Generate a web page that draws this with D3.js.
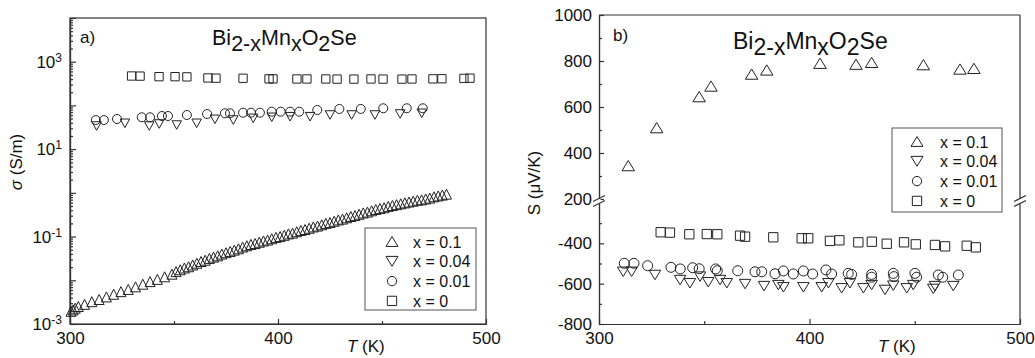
<!DOCTYPE html>
<html>
<head>
<meta charset="utf-8">
<script src="https://cdn.jsdelivr.net/npm/d3@7"></script>
<style>
  body { margin: 0; background: #fff; }
  svg { display: block; font-family: "Liberation Sans", Arial, sans-serif; }
  .axis path, .axis line { stroke: #333; stroke-width: 1.2; }
  .axis text { font-size: 17px; fill: #111; font-family: "Liberation Sans", Arial, sans-serif; }
</style>
</head>
<body>
<svg id="chart" width="1035" height="358"></svg>
<script>
// ---- panel a) conductivity, sigma (S/m) vs T (K) ----
const condT_x01 = [300.5, 301.5, 302.5, 304, 307, 310.5, 314, 317.5, 321, 324.5, 328, 331.5, 335, 338.5, 342, 345.5, 349,
  351, 353, 355, 357, 359, 361, 363, 365, 367, 369, 371, 373, 375, 377, 379, 381, 383, 385, 387, 389,
  391, 393, 395, 397, 399, 401, 403, 405, 407, 409, 411, 413, 415, 417, 419, 421, 423, 425, 427, 429,
  431, 433, 435, 437, 439, 441, 443, 445, 447, 449, 451, 453, 455, 457, 459, 461, 463, 465, 467, 469,
  471, 473, 475, 477, 479, 481];
const cond_x01 = [0.00195, 0.0021, 0.0023, 0.00251, 0.00282, 0.00324, 0.00363, 0.00417, 0.00479, 0.0055, 0.00617, 0.00708, 0.00813, 0.00933, 0.0105, 0.012, 0.0138,
  0.0158, 0.0174, 0.0191, 0.0204, 0.0224, 0.0245, 0.0269, 0.0288, 0.0316, 0.0339, 0.0363, 0.0398, 0.0427, 0.0457, 0.049, 0.0525, 0.0575, 0.0617, 0.0661, 0.0692,
  0.0741, 0.0794, 0.0832, 0.0891, 0.0955, 0.1, 0.107, 0.115, 0.12, 0.129, 0.138, 0.145, 0.155, 0.166, 0.174, 0.186, 0.2, 0.209, 0.224, 0.24,
  0.251, 0.269, 0.288, 0.302, 0.324, 0.347, 0.363, 0.389, 0.417, 0.437, 0.457, 0.49, 0.513, 0.537, 0.562, 0.589, 0.617, 0.646, 0.676, 0.692,
  0.724, 0.759, 0.813, 0.851, 0.891, 0.933];

const condT_x004 = [312.8, 326.4, 338.1, 342.9, 351.3, 360.9, 369.7, 378.5, 388.1, 397, 405.8, 415.4, 425, 435.4, 446.6, 458.7, 469.1];
const cond_x004 = [33.8, 39, 33.8, 37.6, 35.6, 39, 48.1, 46.3, 50.7, 53.5, 55.2, 55.2, 60.4, 60.4, 60.4, 63.7, 66.1];

const condT_x001 = [312.4, 316.3, 322.6, 334.5, 338.5, 344.2, 347.1, 356.2, 365.9, 374.5, 376.9, 383.2, 387, 391.3, 397, 401.3, 405.8, 410.2, 418.9, 429.5, 439.8, 450.6, 461.9, 469.6];
const cond_x001 = [46.3, 46.3, 48.9, 53.5, 53.5, 57.3, 57.3, 60.4, 63.7, 66.1, 66.1, 68.2, 68.2, 68.2, 71.9, 71.9, 71.9, 71.9, 78.7, 83, 83, 86.1, 86.1, 86.1];

const condT_x0 = [329.6, 333.7, 342.8, 350.5, 356.2, 366.3, 370.2, 383.2, 395.7, 397.6, 409.1, 413.9, 423, 428.4, 436.5, 444.7, 450.5, 459.6, 464.4, 474.5, 478.8, 489.4, 492.3];
const cond_x0 = [471, 468, 455, 455, 450, 425, 420, 418, 405, 405, 403, 403, 403, 400, 400, 403, 400, 400, 403, 405, 408, 415, 420];

// ---- panel b) Seebeck coefficient, S (uV/K) vs T (K) ----
const seebT_x01 = [313.9, 327.4, 347.6, 353.2, 372.5, 379.7, 405, 422.1, 429.5, 454.1, 471.5, 478.1];
const seeb_x01 = [345, 510, 645, 691, 743, 761, 790, 786, 794, 784, 765, 768];

const seebT_x004 = [311.5, 315.5, 326.6, 338.5, 343.2, 348, 351.9, 357.5, 360.7, 369.4, 378.4, 385.2, 387.6, 397.1, 405.8, 409, 415.3, 419.2, 425.6, 429.5, 435.9, 439.8, 446.2, 449.3, 458.8, 459.6, 468.3];
const seeb_x004 = [-541, -541, -557, -582, -598, -565, -593, -582, -598, -602, -612, -607, -618, -618, -618, -598, -623, -598, -623, -607, -631, -610, -623, -607, -626, -612, -612];

const seebT_x001 = [312, 316.6, 323.1, 334.2, 338.6, 344.5, 347.6, 355.4, 356.2, 365.9, 374.1, 377.3, 383.6, 387.6, 392.3, 397.1, 401.5, 407.8, 410.5, 418.4, 420, 429.5, 429.5, 439.8, 440.1, 450.1, 450.9, 461.2, 463.3, 470.7];
const seeb_x001 = [-499, -499, -511, -519, -527, -521, -526, -527, -536, -536, -541, -541, -551, -537, -552, -537, -552, -532, -552, -549, -554, -554, -568, -549, -565, -549, -568, -557, -568, -557];

const seebT_x0 = [329.3, 333.7, 342.9, 351.2, 356.2, 367, 369.4, 382.8, 396.3, 399.4, 409.7, 414.2, 423.2, 429.6, 436.7, 444.9, 450.5, 459.6, 464.4, 474.7, 479];
const seeb_x0 = [-345, -347, -355, -354, -355, -362, -367, -370, -375, -375, -388, -385, -395, -392, -402, -395, -405, -408, -415, -412, -420];

const legendLabels = ["x = 0.1", "x = 0.04", "x = 0.01", "x = 0"];
const legendShapes = ["up", "down", "circle", "square"];
const tempTicks = [300, 400, 500];
const tempMinor = [350, 450];
const logMajor = [1e-3, 1e-2, 1e-1, 1e0, 1e1, 1e2, 1e3, 1e4];
const seebUpperTicks = [200, 400, 600, 800, 1000];
const seebUpperMinor = [300, 500, 700, 900];
const seebLowerTicks = [-800, -600, -400];
const seebLowerMinor = [-700, -500, -300];

const svg = d3.select("#chart");
const ink = "#222";
const plain = d => String(d);

// w = width, k = half-height as a fraction of the width
function shapePath(kind, s, k = 0.41) {
  const h = s / 2, t = s * k;
  if (kind === "up") return `M0,${-t}L${h},${t}L${-h},${t}Z`;
  if (kind === "down") return `M0,${t}L${h},${-t}L${-h},${-t}Z`;
  if (kind === "square") return `M${-h},${-h}h${s}v${s}h${-s}Z`;
  return `M${h},0A${h},${h} 0 1,1 ${-h},0A${h},${h} 0 1,1 ${h},0Z`;
}

function drawSeries(g, xs, ys, T, v, kind, size, k) {
  g.append("g").selectAll("path")
    .data(d3.zip(T, v))
    .join("path")
    .attr("transform", d => `translate(${xs(d[0])},${ys(d[1])})`)
    .attr("d", shapePath(kind, size, k))
    .attr("fill", "none")
    .attr("stroke", ink)
    .attr("stroke-width", 1);
}

function drawLegend(x0, y0, w, h, rows, symX, textX) {
  svg.append("rect")
    .attr("x", x0).attr("y", y0).attr("width", w).attr("height", h)
    .attr("fill", "#fff").attr("stroke", "#555").attr("stroke-width", 1);
  rows.forEach((label, i) => {
    const cy = y0 + 13.5 + i * 19.8;
    const tri = legendShapes[i] === "up" || legendShapes[i] === "down";
    svg.append("path")
      .attr("transform", `translate(${symX},${cy})`)
      .attr("d", shapePath(legendShapes[i], tri ? 12 : 9.3))
      .attr("fill", "none").attr("stroke", ink).attr("stroke-width", 1);
    svg.append("text")
      .attr("x", textX).attr("y", cy + 6)
      .attr("font-size", 16).attr("fill", "#111")
      .text(label);
  });
}

function title(x, y, size) {
  const t = svg.append("text").attr("x", x).attr("y", y).attr("font-size", size).attr("fill", "#111");
  const parts = [["Bi", 0], ["2-x", 1], ["Mn", 0], ["x", 1], ["O", 0], ["2", 1], ["Se", 0]];
  let low = false;
  parts.forEach(([s, sub]) => {
    const ts = t.append("tspan").text(s);
    if (sub && !low) { ts.attr("dy", 6); low = true; }
    else if (!sub && low) { ts.attr("dy", -6); low = false; }
  });
}

function axisTitleT(x, y) {
  const t = svg.append("text").attr("x", x).attr("y", y).attr("font-size", 17).attr("fill", "#111");
  t.append("tspan").attr("font-style", "italic").text("T");
  t.append("tspan").text(" (K)");
}

// ================= panel a =================
const aL = 70, aR = 486, aT = 18, aB = 324;
const xA = d3.scaleLinear().domain([300, 500]).range([aL, aR]);
const yA = d3.scaleLog().domain([1e-3, 1e4]).range([aB, aT]);

svg.append("rect").attr("x", aL).attr("y", aT).attr("width", aR - aL).attr("height", aB - aT)
  .attr("fill", "none").attr("stroke", "#333").attr("stroke-width", 1.2);

svg.append("g").attr("class", "axis").attr("transform", `translate(0,${aB})`)
  .call(d3.axisBottom(xA).tickValues(tempTicks).tickSize(-5).tickSizeOuter(0).tickPadding(8).tickFormat(plain));
svg.append("g").attr("class", "axis").attr("transform", `translate(0,${aB})`)
  .call(d3.axisBottom(xA).tickValues(tempMinor).tickSize(-3).tickSizeOuter(0).tickFormat(""));

const yAxA = svg.append("g").attr("class", "axis").attr("transform", `translate(${aL},0)`)
  .call(d3.axisLeft(yA).tickValues(logMajor).tickSize(-6).tickSizeOuter(0).tickPadding(8).tickFormat(d => d));
yAxA.selectAll(".tick text").each(function (d) {
  const e = Math.round(Math.log10(d));
  const t = d3.select(this).text(null);
  if (Math.abs(e) % 2 !== 1) return;
  t.append("tspan").text("10");
  t.append("tspan").attr("dy", "-0.5em").attr("font-size", "12px").text(e);
});
svg.append("g").attr("class", "axis").attr("transform", `translate(${aL},0)`)
  .call(d3.axisLeft(yA).tickValues(yA.ticks().filter(v => Math.abs(Math.log10(v) - Math.round(Math.log10(v))) > 1e-6))
    .tickSize(-3).tickSizeOuter(0).tickFormat(""));

drawSeries(svg, xA, yA, condT_x0, cond_x0, "square", 8.3);
drawSeries(svg, xA, yA, condT_x001, cond_x001, "circle", 9);
drawSeries(svg, xA, yA, condT_x004, cond_x004, "down", 9.5, 0.45);
drawSeries(svg, xA, yA, condT_x01, cond_x01, "up", 10, 0.5);

svg.append("text").attr("x", 80).attr("y", 43).attr("font-size", 17).attr("fill", "#111").text("a)");
title(212, 45, 21.5);
drawLegend(365, 228, 111, 82, legendLabels, 392, 413);
axisTitleT(347, 352);

const yLabA = svg.append("text").attr("transform", "translate(22,162) rotate(-90)")
  .attr("text-anchor", "middle").attr("font-size", 17).attr("fill", "#111");
yLabA.append("tspan").attr("font-style", "italic").text("σ");
yLabA.append("tspan").text(" (S/m)");

// ================= panel b =================
const bL = 599, bR = 1020, bT = 15, bB = 324, brkHi = 199, brkLo = 203;
const xB = d3.scaleLinear().domain([300, 500]).range([bL, bR]);
const yBup = d3.scaleLinear().domain([200, 1000]).range([brkHi, bT]);
const yBlo = d3.scaleLinear().domain([-800, -200]).range([bB, brkLo]);
const yB = v => (v >= 0 ? yBup(v) : yBlo(v));

// frame: top, right with break
svg.append("line").attr("x1", bL).attr("x2", bR).attr("y1", bT).attr("y2", bT).attr("stroke", "#333").attr("stroke-width", 1.2);
svg.append("line").attr("x1", bR).attr("x2", bR).attr("y1", bT).attr("y2", 198).attr("stroke", "#333").attr("stroke-width", 1.2);
svg.append("line").attr("x1", bR).attr("x2", bR).attr("y1", 204).attr("y2", bB).attr("stroke", "#333").attr("stroke-width", 1.2);

svg.append("g").attr("class", "axis").attr("transform", `translate(0,${bB})`)
  .call(d3.axisBottom(xB).tickValues(tempTicks).tickSize(-5).tickSizeOuter(0).tickPadding(8).tickFormat(plain));
svg.append("g").attr("class", "axis").attr("transform", `translate(0,${bB})`)
  .call(d3.axisBottom(xB).tickValues(tempMinor).tickSize(-3).tickSizeOuter(0).tickFormat(""));

svg.append("g").attr("class", "axis").attr("transform", `translate(${bL},0)`)
  .call(d3.axisLeft(yBup).tickValues(seebUpperTicks).tickSize(-5).tickSizeOuter(0).tickPadding(7).tickFormat(plain));
svg.append("g").attr("class", "axis").attr("transform", `translate(${bL},0)`)
  .call(d3.axisLeft(yBup).tickValues(seebUpperMinor).tickSize(-3).tickSizeOuter(0).tickFormat(""));
svg.append("g").attr("class", "axis").attr("transform", `translate(${bL},0)`)
  .call(d3.axisLeft(yBlo).tickValues(seebLowerTicks).tickSize(-5).tickSizeOuter(0).tickPadding(7).tickFormat(plain));
svg.append("g").attr("class", "axis").attr("transform", `translate(${bL},0)`)
  .call(d3.axisLeft(yBlo).tickValues(seebLowerMinor).tickSize(-3).tickSizeOuter(0).tickFormat(""));

// axis break marks
[[bL, 201], [bR, 201]].forEach(([bx, by]) => {
  svg.append("rect").attr("x", bx - 1.5).attr("y", by - 2).attr("width", 3).attr("height", 4).attr("fill", "#fff");
  [-2.5, 2.5].forEach(off => {
    svg.append("line")
      .attr("x1", bx - 6).attr("y1", by + off + 3)
      .attr("x2", bx + 6).attr("y2", by + off - 3)
      .attr("stroke", "#333").attr("stroke-width", 1.2);
  });
});

drawSeries(svg, xB, yB, seebT_x0, seeb_x0, "square", 9.3);
drawSeries(svg, xB, yB, seebT_x001, seeb_x001, "circle", 10);
drawSeries(svg, xB, yB, seebT_x004, seeb_x004, "down", 11.5);
drawSeries(svg, xB, yB, seebT_x01, seeb_x01, "up", 12.5);

svg.append("text").attr("x", 613).attr("y", 41).attr("font-size", 17).attr("fill", "#111").text("b)");
title(733, 49, 23);
drawLegend(892, 128, 110, 84, legendLabels, 917, 940);
axisTitleT(878, 352);

const yLabB = svg.append("text").attr("transform", "translate(540,183) rotate(-90)")
  .attr("text-anchor", "middle").attr("font-size", 17).attr("fill", "#111");
yLabB.append("tspan").text("S (μV/K)");
</script>
</body>
</html>
